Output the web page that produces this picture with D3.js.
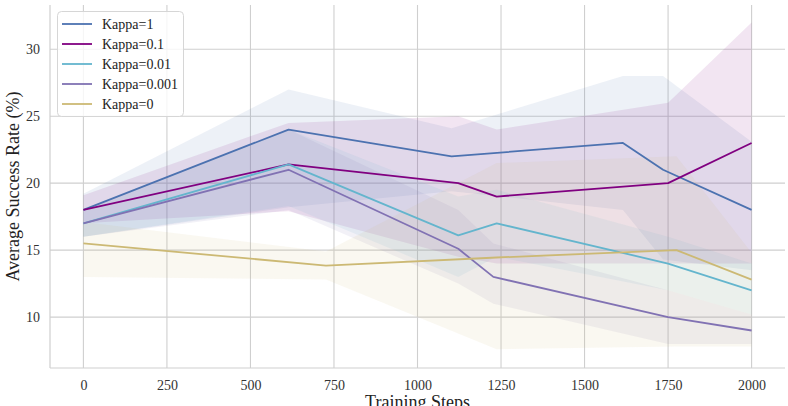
<!DOCTYPE html>
<html><head><meta charset="utf-8">
<script src="https://cdn.jsdelivr.net/npm/d3@7"></script>
<style>
html,body{margin:0;padding:0;background:#fff;}
svg{display:block;}
svg text{font-family:"Liberation Serif","DejaVu Serif","Times New Roman",serif;}
</style></head>
<body><svg id="chart" width="788" height="406"></svg>
<script>
const seriesNames = ["Kappa=1","Kappa=0.1","Kappa=0.01","Kappa=0.001","Kappa=0"];
const seriesColors = ["#4c72b0","#800080","#64b5cd","#8172b3","#ccb974"];

const stepsK1 = [0, 614, 1102, 1615, 1735, 2000];
const meanK1  = [18.0, 24.0, 22.0, 23.0, 21.0, 18.0];
const lowK1   = [16.0, 18.2, 19.4, 18.0, 14.3, 13.5];
const highK1  = [19.2, 27.0, 24.1, 28.0, 28.0, 23.1];

const stepsK01 = [0, 614, 1122, 1237, 1750, 2000];
const meanK01  = [18.0, 21.4, 20.0, 19.0, 20.0, 23.0];
const lowK01   = [17.0, 17.9, 14.5, 14.0, 14.0, 14.0];
const highK01  = [19.1, 24.5, 25.0, 24.0, 26.0, 32.0];

const stepsK001 = [0, 614, 1122, 1237, 1750, 2000];
const meanK001  = [17.0, 21.4, 16.1, 17.0, 14.0, 12.0];
const lowK001   = [16.0, 18.3, 13.0, 14.5, 12.0, 10.2];
const highK001  = [18.0, 24.0, 19.0, 19.5, 16.0, 14.0];

const stepsK0001 = [0, 614, 1122, 1227, 1750, 2000];
const meanK0001  = [17.0, 21.0, 15.1, 13.0, 10.0, 9.0];
const lowK0001   = [16.0, 18.0, 12.5, 11.0, 8.0, 8.0];
const highK0001  = [18.0, 24.0, 18.0, 15.5, 12.0, 10.2];

const stepsK0 = [0, 726, 1237, 1775, 2000];
const meanK0  = [15.5, 13.85, 14.45, 15.0, 12.8];
const lowK0   = [13.0, 12.8, 7.6, 7.8, 7.8];
const highK0  = [17.1, 14.9, 21.5, 22.0, 14.8];

const xTicks = [0, 250, 500, 750, 1000, 1250, 1500, 1750, 2000];
const yTicks = [10, 15, 20, 25, 30];

const allSteps = [stepsK1, stepsK01, stepsK001, stepsK0001, stepsK0];
const allMean = [meanK1, meanK01, meanK001, meanK0001, meanK0];
const allLow = [lowK1, lowK01, lowK001, lowK0001, lowK0];
const allHigh = [highK1, highK01, highK001, highK0001, highK0];

const series = seriesNames.map((name, i) => ({
  name, color: seriesColors[i],
  pts: allSteps[i].map((s, j) => ({x: s, y: allMean[i][j], lo: allLow[i][j], hi: allHigh[i][j]}))
}));

const FONT = "Liberation Serif, DejaVu Serif, serif";
const svg = d3.select("#chart");
const pL = 50, pR = 785, pT = 5, pB = 368;
const x = d3.scaleLinear().domain([-100, 2100]).range([pL, pR]);
const y = d3.scaleLinear().domain([6.2, 33.3]).range([pB, pT]);

const gridColor = "#cfcfcf";
svg.append("g").selectAll("line").data(xTicks).join("line")
  .attr("x1", d => x(d)).attr("x2", d => x(d)).attr("y1", pT).attr("y2", pB)
  .attr("stroke", gridColor).attr("stroke-width", 1.1);
svg.append("g").selectAll("line").data(yTicks).join("line")
  .attr("x1", pL).attr("x2", pR).attr("y1", d => y(d)).attr("y2", d => y(d))
  .attr("stroke", gridColor).attr("stroke-width", 1.1);

const area = d3.area().x(d => x(d.x)).y0(d => y(d.lo)).y1(d => y(d.hi));
svg.append("g").selectAll("path").data(series).join("path")
  .attr("d", d => area(d.pts)).attr("fill", d => d.color).attr("fill-opacity", 0.1)
  .attr("stroke", "none");

const line = d3.line().x(d => x(d.x)).y(d => y(d.y));
svg.append("g").selectAll("path").data(series).join("path")
  .attr("d", d => line(d.pts)).attr("fill", "none").attr("stroke", d => d.color)
  .attr("stroke-width", 1.8).attr("stroke-linejoin", "round");

svg.append("line").attr("x1", pL).attr("x2", pL).attr("y1", pT).attr("y2", pB)
  .attr("stroke", gridColor).attr("stroke-width", 1.2);
svg.append("line").attr("x1", pL).attr("x2", pR).attr("y1", pB).attr("y2", pB)
  .attr("stroke", gridColor).attr("stroke-width", 1.2);

const xAxis = d3.axisBottom(x).tickValues(xTicks).tickSize(0).tickPadding(12).tickFormat(d3.format("d"));
const gx = svg.append("g").attr("transform", `translate(0,${pB})`).call(xAxis)
  .attr("font-family", FONT);
gx.select(".domain").remove();
gx.selectAll("text").attr("font-size", 14).attr("fill", "#333").attr("font-family", FONT);

const yAxis = d3.axisLeft(y).tickValues(yTicks).tickSize(0).tickPadding(10).tickFormat(d3.format("d"));
const gy = svg.append("g").attr("transform", `translate(${pL},0)`).call(yAxis)
  .attr("font-family", FONT);
gy.select(".domain").remove();
gy.selectAll("text").attr("font-size", 14).attr("fill", "#333").attr("font-family", FONT);

svg.append("text").attr("x", (pL + pR) / 2).attr("y", 408).attr("text-anchor", "middle")
  .attr("font-family", FONT).attr("font-size", 18).attr("fill", "#222").text("Training Steps");
svg.append("text").attr("transform", `translate(19,${(pT + pB) / 2}) rotate(-90)`)
  .attr("text-anchor", "middle").attr("font-family", FONT).attr("font-size", 18).attr("fill", "#222")
  .text("Average Success Rate (%)");

const lg = svg.append("g");
lg.append("rect").attr("x", 57.5).attr("y", 11.5).attr("width", 126).attr("height", 105)
  .attr("rx", 4).attr("fill", "#fff").attr("fill-opacity", 0.8).attr("stroke", "#d6d6d6");
series.forEach((s, i) => {
  const yy = 24 + i * 20;
  lg.append("line").attr("x1", 62).attr("x2", 92).attr("y1", yy).attr("y2", yy)
    .attr("stroke", s.color).attr("stroke-width", 1.8);
  lg.append("text").attr("x", 102).attr("y", yy + 5).attr("font-family", FONT)
    .attr("font-size", 14).attr("fill", "#222").text(s.name);
});
</script></body></html>
